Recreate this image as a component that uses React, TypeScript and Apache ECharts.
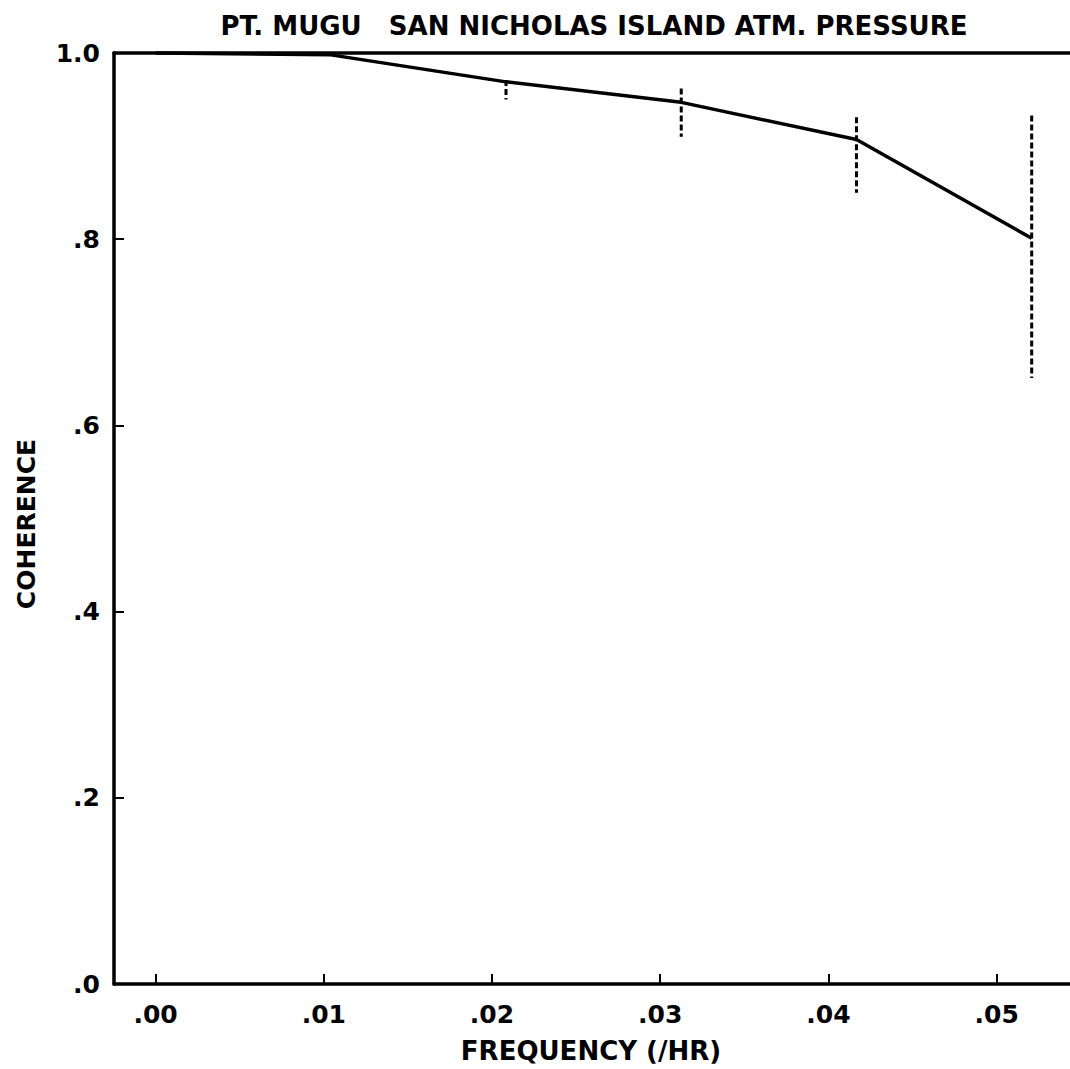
import React, { useEffect, useRef } from "react";
import * as echarts from "echarts";

const frequencies = [0, 0.010417, 0.020833, 0.03125, 0.041667, 0.052083];
const coherence = [1.0, 0.998, 0.969, 0.947, 0.907, 0.801];
const barFrequencies = [0.020833, 0.03125, 0.041667, 0.052083];
const barLower = [0.95, 0.91, 0.85, 0.651];
const barUpper = [0.971, 0.962, 0.931, 0.933];
const xTicks = [0, 0.01, 0.02, 0.03, 0.04, 0.05];
const titleText = "PT. MUGU   SAN NICHOLAS ISLAND ATM. PRESSURE";
const xName = "FREQUENCY (/HR)";
const yName = "COHERENCE";

const FONT = "DejaVu Sans";

export default function App() {
  const ref = useRef<HTMLDivElement>(null);
  useEffect(() => {
    if (!ref.current) return;
    const chart = echarts.init(ref.current, null, { renderer: "svg" });
    const xMin = -0.00247;
    const xMax = 0.05436;
    chart.setOption({
      animation: false,
      backgroundColor: "#fff",
      grid: { left: 114, top: 53, right: 0, bottom: 85, containLabel: false },
      graphic: [
        {
          type: "text",
          x: 594,
          y: 26,
          style: {
            text: titleText,
            font: `bold 26px '${FONT}'`,
            fill: "#000",
            align: "center",
            verticalAlign: "middle",
          },
        },
        {
          type: "text",
          x: 591,
          y: 1051,
          style: {
            text: xName,
            font: `bold 26px '${FONT}'`,
            fill: "#000",
            align: "center",
            verticalAlign: "middle",
          },
        },
        {
          type: "text",
          x: 26,
          y: 524,
          rotation: Math.PI / 2,
          style: {
            text: yName,
            font: `bold 25px '${FONT}'`,
            fill: "#000",
            align: "center",
            verticalAlign: "middle",
          },
        },
      ],
      xAxis: [
        {
          type: "value",
          min: xMin,
          max: xMax,
          position: "bottom",
          axisLine: { show: true, onZero: false, lineStyle: { color: "#000", width: 3.5 } },
          axisTick: {
            show: true,
            inside: true,
            length: 10,
            lineStyle: { color: "#000", width: 2 },
            customValues: xTicks,
          },
          axisLabel: {
            show: true,
            customValues: xTicks,
            margin: 18,
            color: "#000",
            fontFamily: FONT,
            fontWeight: "bold",
            fontSize: 25,
            formatter: (v: number) => v.toFixed(2).replace(/^0/, ""),
          },
          splitLine: { show: false },
        },
        {
          type: "value",
          min: xMin,
          max: xMax,
          position: "top",
          axisLine: { show: true, onZero: false, lineStyle: { color: "#000", width: 3.5 } },
          axisTick: { show: false },
          axisLabel: { show: false },
          splitLine: { show: false },
        },
      ],
      yAxis: {
        type: "value",
        min: 0,
        max: 1,
        interval: 0.2,
        axisLine: { show: true, onZero: false, lineStyle: { color: "#000", width: 3.5 } },
        axisTick: { show: true, inside: true, length: 10, lineStyle: { color: "#000", width: 2 } },
        axisLabel: {
          margin: 14,
          color: "#000",
          fontFamily: FONT,
          fontWeight: "bold",
          fontSize: 25,
          formatter: (v: number) => (v >= 1 ? "1.0" : v.toFixed(1).replace(/^0/, "")),
        },
        splitLine: { show: false },
      },
      series: [
        {
          type: "line",
          data: frequencies.map((f, i) => [f, coherence[i]]),
          symbol: "none",
          lineStyle: { color: "#000", width: 3.5 },
          clip: false,
        },
        {
          type: "custom",
          data: barFrequencies.map((f, i) => [f, barLower[i], barUpper[i]]),
          renderItem: (params: any, api: any) => {
            const x = api.value(0);
            const p1 = api.coord([x, api.value(2)]);
            const p2 = api.coord([x, api.value(1)]);
            return {
              type: "line",
              shape: { x1: p1[0], y1: p1[1], x2: p2[0], y2: p2[1] },
              style: { stroke: "#000", lineWidth: 3, lineDash: [6, 3], fill: null },
            };
          },
        },
      ],
    });
    return () => chart.dispose();
  }, []);
  return (
    <div
      ref={ref}
      style={{ position: "fixed", left: 0, top: 0, width: 1070, height: 1069 }}
    />
  );
}
